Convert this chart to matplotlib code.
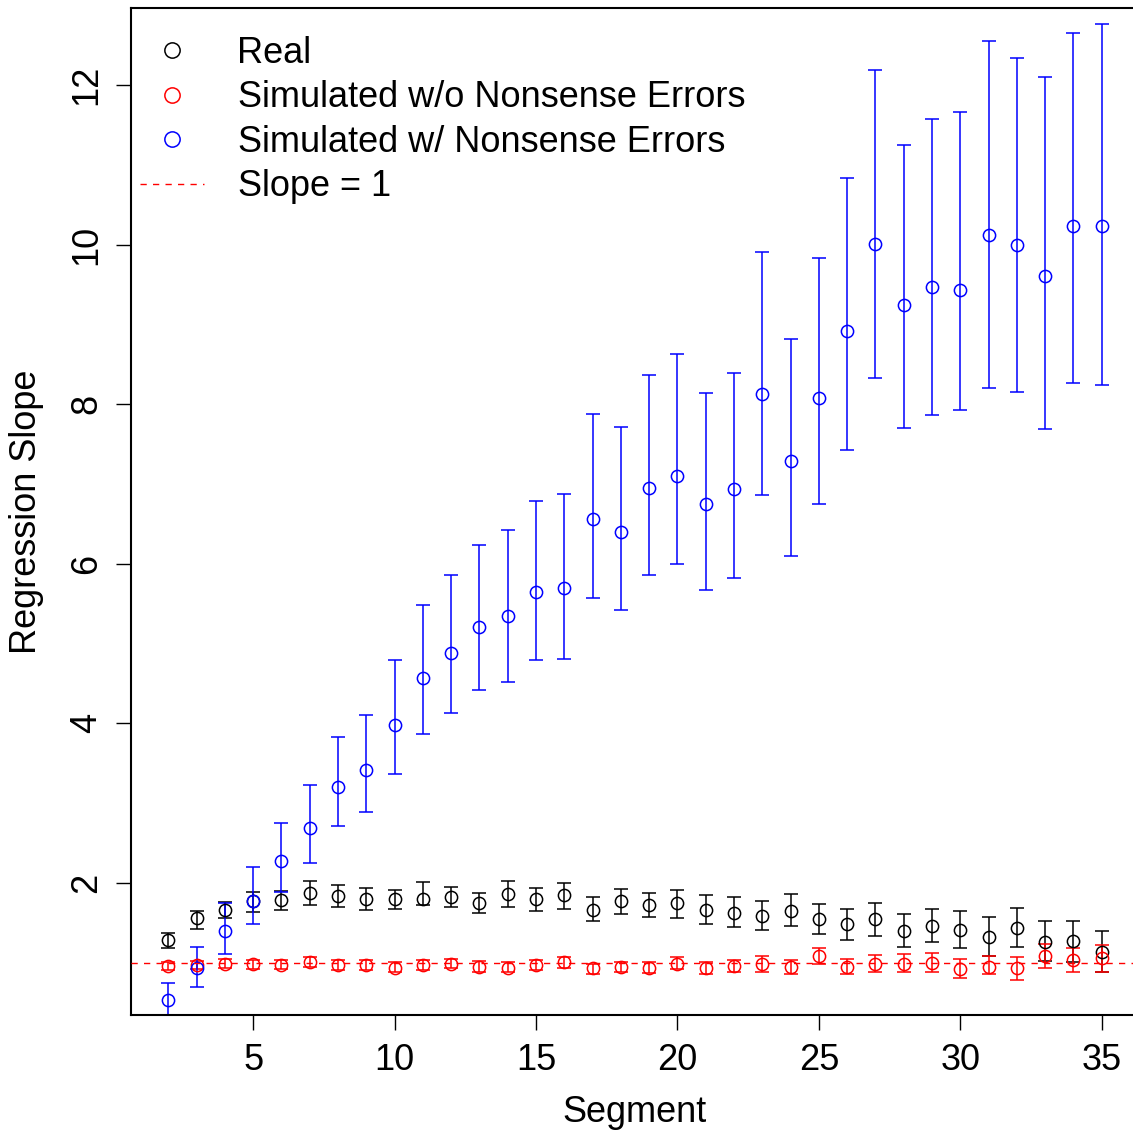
import numpy as np
import matplotlib
matplotlib.use("Agg")
import matplotlib.pyplot as plt
from matplotlib.lines import Line2D

plt.rcParams["font.family"] = ["Liberation Sans", "DejaVu Sans"]

# ── Data ──
segment = list(range(2, 36))

real_mid = [1.28, 1.56, 1.66, 1.77, 1.79, 1.87, 1.84, 1.80, 1.80, 1.80, 1.82,
            1.75, 1.86, 1.80, 1.85, 1.66, 1.77, 1.72, 1.75, 1.66, 1.63, 1.59,
            1.65, 1.55, 1.49, 1.55, 1.40, 1.46, 1.41, 1.32, 1.44, 1.26, 1.27, 1.14]
real_lo = [1.19, 1.42, 1.56, 1.64, 1.66, 1.72, 1.70, 1.66, 1.68, 1.72, 1.70,
           1.63, 1.70, 1.65, 1.68, 1.52, 1.61, 1.57, 1.56, 1.49, 1.45, 1.41,
           1.46, 1.36, 1.29, 1.34, 1.20, 1.26, 1.19, 1.09, 1.20, 1.02, 1.01, 0.88]
real_hi = [1.37, 1.65, 1.76, 1.89, 1.90, 2.02, 1.98, 1.94, 1.91, 2.01, 1.95,
           1.88, 2.02, 1.94, 2.00, 1.82, 1.92, 1.88, 1.91, 1.85, 1.82, 1.77,
           1.86, 1.74, 1.67, 1.75, 1.61, 1.68, 1.65, 1.57, 1.69, 1.53, 1.53, 1.40]

sim_mid = [0.96, 0.97, 0.99, 0.98, 0.97, 1.01, 0.97, 0.97, 0.94, 0.97, 0.99,
           0.95, 0.94, 0.97, 1.01, 0.93, 0.95, 0.94, 0.99, 0.93, 0.96, 0.99,
           0.95, 1.09, 0.95, 0.99, 0.99, 1.00, 0.92, 0.95, 0.93, 1.09, 1.04, 1.06]
sim_lo = [0.91, 0.92, 0.94, 0.92, 0.92, 0.95, 0.91, 0.91, 0.88, 0.91, 0.93,
          0.89, 0.88, 0.91, 0.94, 0.86, 0.88, 0.87, 0.92, 0.86, 0.88, 0.89,
          0.86, 0.99, 0.86, 0.89, 0.88, 0.89, 0.81, 0.86, 0.78, 0.94, 0.88, 0.89]
sim_hi = [1.01, 1.02, 1.05, 1.03, 1.03, 1.07, 1.03, 1.03, 1.01, 1.04, 1.05,
          1.02, 1.01, 1.03, 1.07, 0.99, 1.01, 1.01, 1.07, 1.01, 1.03, 1.09,
          1.03, 1.19, 1.05, 1.10, 1.11, 1.12, 1.05, 1.09, 1.07, 1.23, 1.18, 1.22]

nons_mid = [0.53, 0.93, 1.40, 1.77, 2.28, 2.69, 3.20, 3.42, 3.98, 4.57, 4.88,
            5.21, 5.35, 5.65, 5.70, 6.56, 6.40, 6.95, 7.10, 6.75, 6.94, 8.13,
            7.29, 8.08, 8.92, 10.01, 9.24, 9.47, 9.43, 10.12, 10.00, 9.61, 10.23, 10.23]
nons_lo = [0.30, 0.70, 1.11, 1.49, 1.89, 2.25, 2.71, 2.89, 3.37, 3.87, 4.13,
           4.42, 4.52, 4.79, 4.81, 5.57, 5.42, 5.86, 6.00, 5.67, 5.82, 6.86,
           6.10, 6.75, 7.43, 8.33, 7.70, 7.86, 7.93, 8.20, 8.15, 7.69, 8.27, 8.24]
nons_hi = [0.75, 1.20, 1.75, 2.20, 2.75, 3.23, 3.83, 4.10, 4.79, 5.48, 5.86,
           6.24, 6.42, 6.79, 6.88, 7.88, 7.71, 8.37, 8.63, 8.14, 8.39, 9.91,
           8.82, 9.83, 10.83, 12.19, 11.25, 11.57, 11.66, 12.55, 12.34, 12.10, 12.65, 12.76]

labels = ["Real", "Simulated w/o Nonsense Errors",
          "Simulated w/ Nonsense Errors", "Slope = 1"]

# ── Figure ──
W, H = 1133, 1132
fig = plt.figure(figsize=(W / 100, H / 100), dpi=100)
ax = fig.add_axes([131 / W, 1 - 1015 / H, (1139 - 131) / W, (1015 - 8) / H])

fs = 26
x = np.array(segment)
series = [
    (real_mid, real_lo, real_hi, "black"),
    (sim_mid, sim_lo, sim_hi, "#ff0000"),
    (nons_mid, nons_lo, nons_hi, "#0000ff"),
]
for mid, lo, hi, col in series:
    mid = np.array(mid)
    yerr = [mid - np.array(lo), np.array(hi) - mid]
    ax.errorbar(x, mid, yerr=yerr, fmt="o", mfc="none", mec=col, ecolor=col,
                ms=8.8, mew=1.1, elinewidth=1.1, capsize=5.3, capthick=1.1)

ax.axhline(1, color="#ff0000", lw=1.0, dashes=(4.5, 4.5), zorder=5)

ax.set_xlim(0.68, 36.32)
ax.set_ylim(0.346, 12.965)
ax.set_xticks([5, 10, 15, 20, 25, 30, 35])
ax.set_yticks([2, 4, 6, 8, 10, 12])
ax.tick_params(axis="both", labelsize=fs, length=11, width=1.0)
ax.tick_params(axis="x", pad=9)
ax.tick_params(axis="y", pad=8)
for lab in ax.get_yticklabels():
    lab.set_rotation(90)
    lab.set_va("center")
for side in ["left", "bottom", "top", "right"]:
    ax.spines[side].set_linewidth(1.5)

fig.text(635 / W, 1 - 1112 / H, "Segment", ha="center", va="center", fontsize=fs)
fig.text(27 / W, 1 - 512 / H, "Regression Slope", ha="center", va="center",
         rotation=90, fontsize=fs)

# ── Legend (no box, like R bty="n") ──
lms = 11
handles = [
    Line2D([], [], ls="none", marker="o", mfc="none", mec="black", ms=lms, mew=1.1),
    Line2D([], [], ls="none", marker="o", mfc="none", mec="#ff0000", ms=lms, mew=1.1),
    Line2D([], [], ls="none", marker="o", mfc="none", mec="#0000ff", ms=lms, mew=1.1),
    Line2D([], [], color="#ff0000", lw=1.0, dashes=(4.5, 4.5)),
]
ax.legend(handles, labels, loc="upper left", frameon=False, fontsize=fs,
          bbox_to_anchor=(140 / W, 1 - 36 / H), bbox_transform=fig.transFigure,
          borderaxespad=0, borderpad=0, handlelength=1.78, handletextpad=0.92,
          labelspacing=0.26)

fig.savefig("out.png", dpi=100)
